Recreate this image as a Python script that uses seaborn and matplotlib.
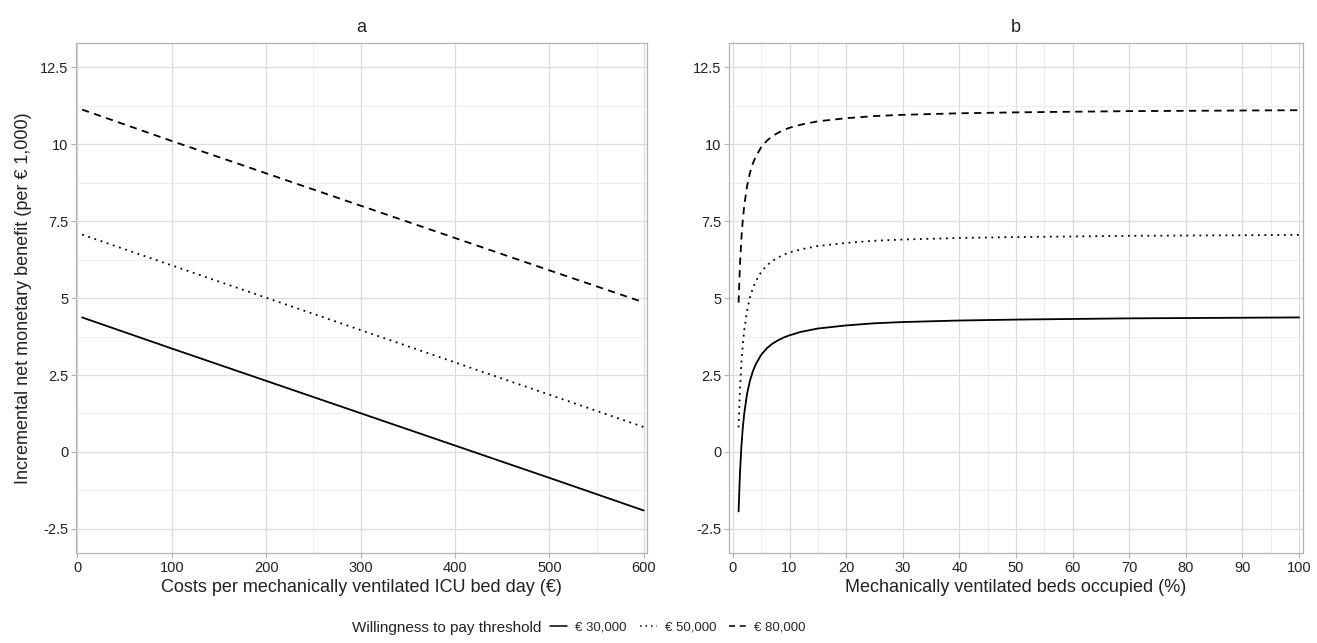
import numpy as np
import pandas as pd
import matplotlib
matplotlib.use("Agg")
import matplotlib.pyplot as plt
from matplotlib.lines import Line2D
import seaborn as sns

# --- DATA ---
wtp_labels = ["€ 30,000", "€ 50,000", "€ 80,000"]

# panel a: cost per ventilated ICU bed day (EUR)
cost_x = [5, 100, 200, 300, 400, 500, 600]
cost_30k = [4.37, 3.36, 2.31, 1.26, 0.21, -0.84, -1.90]
cost_50k = [7.06, 6.06, 5.01, 3.96, 2.91, 1.86, 0.81]
cost_80k = [11.12, 10.10, 9.05, 8.00, 6.95, 5.90, 4.86]

# panel b: mechanically ventilated beds occupied (%)
occ_x = [1, 1.25, 1.5, 1.75, 2, 2.5, 3, 3.5, 4, 5, 6, 7, 8, 9, 10, 12, 15, 20,
         25, 30, 40, 50, 60, 70, 80, 90, 100]
occ_30k = [-1.93, -0.66, 0.19, 0.80, 1.25, 1.89, 2.31, 2.61, 2.84, 3.16, 3.37,
           3.52, 3.63, 3.72, 3.79, 3.90, 4.01, 4.11, 4.18, 4.22, 4.27, 4.30,
           4.32, 4.34, 4.35, 4.36, 4.37]
occ_50k = [0.80, 2.06, 2.90, 3.50, 3.96, 4.59, 5.01, 5.31, 5.53, 5.85, 6.06,
           6.21, 6.32, 6.41, 6.48, 6.58, 6.69, 6.79, 6.86, 6.90, 6.95, 6.98,
           7.00, 7.02, 7.03, 7.04, 7.05]
occ_80k = [4.85, 6.11, 6.95, 7.55, 8.00, 8.64, 9.06, 9.36, 9.58, 9.90, 10.11,
           10.26, 10.37, 10.46, 10.53, 10.63, 10.74, 10.84, 10.91, 10.95, 11.00,
           11.03, 11.05, 11.07, 11.08, 11.09, 11.10]

y_ticks = [-2.5, 0, 2.5, 5, 7.5, 10, 12.5]
y_tick_labels = ["-2.5", "0", "2.5", "5", "7.5", "10", "12.5"]
y_minor = [-1.25, 1.25, 3.75, 6.25, 8.75, 11.25]
a_xticks = [0, 100, 200, 300, 400, 500, 600]
a_xminor = [250, 550]
b_xticks = [0, 10, 20, 30, 40, 50, 60, 70, 80, 90, 100]
b_xminor = [5, 15, 45, 55, 95]


def long_df(x, series):
    frames = []
    for lab, vals in zip(wtp_labels, series):
        frames.append(pd.DataFrame({"x": x, "y": vals, "wtp": lab}))
    return pd.concat(frames, ignore_index=True)


df_a = long_df(cost_x, [cost_30k, cost_50k, cost_80k])
df_b = long_df(occ_x, [occ_30k, occ_50k, occ_80k])

# --- STYLE ---
sns.set_theme(style="white")
plt.rcParams["font.family"] = ["Liberation Sans", "DejaVu Sans"]

dash_map = {"€ 30,000": "", "€ 50,000": (1, 2.6), "€ 80,000": (4, 3)}
border_col = "#b3b3b3"
text_col = "#222222"

fig = plt.figure(figsize=(13.17, 6.43), dpi=100)
ax_a = fig.add_axes([0.0577, 0.14, 0.4336, 0.793])
ax_b = fig.add_axes([0.5535, 0.14, 0.4359, 0.793])


def style_axis(ax, xticks, xminor, xlim):
    ax.set_xlim(*xlim)
    ax.set_ylim(-3.28, 13.28)
    ax.set_xticks(xticks)
    ax.set_xticks(xminor, minor=True)
    ax.set_yticks(y_ticks)
    ax.set_yticklabels(y_tick_labels)
    ax.set_yticks(y_minor, minor=True)
    ax.grid(which="major", color="#dcdcdc", linewidth=0.9)
    ax.grid(which="minor", color="#ebebeb", linewidth=0.6)
    ax.set_axisbelow(True)
    for s in ax.spines.values():
        s.set_color(border_col)
        s.set_linewidth(0.9)
    ax.tick_params(which="major", length=3.5, width=0.8, color=border_col,
                   labelsize=10.5, labelcolor=text_col, pad=2)
    ax.tick_params(which="minor", length=0)
    ax.tick_params(axis="x", bottom=True)
    ax.tick_params(axis="y", left=True)


for ax, df in [(ax_a, df_a), (ax_b, df_b)]:
    sns.lineplot(data=df, x="x", y="y", style="wtp", dashes=dash_map,
                 color="black", linewidth=1.3, ax=ax, legend=False,
                 estimator=None, sort=True)

style_axis(ax_a, a_xticks, a_xminor, (-1.5, 603.5))
style_axis(ax_b, b_xticks, b_xminor, (-0.7, 100.7))

ax_a.set_title("a", fontsize=13, color=text_col, pad=8)
ax_b.set_title("b", fontsize=13, color=text_col, pad=8)
ax_a.set_xlabel("Costs per mechanically ventilated ICU bed day (€)",
                fontsize=13, color=text_col, labelpad=3)
ax_b.set_xlabel("Mechanically ventilated beds occupied (%)",
                fontsize=13, color=text_col, labelpad=3)
ax_a.set_ylabel("Incremental net monetary benefit (per € 1,000)",
                fontsize=13, color=text_col, labelpad=6)
ax_b.set_ylabel("")

# legend along the bottom, title on the left
fig.text(0.411, 0.024, "Willingness to pay threshold", fontsize=11,
         color=text_col, ha="right", va="center")
handles = [Line2D([], [], color="black", linewidth=1.1, linestyle="-"),
           Line2D([], [], color="black", linewidth=1.1, linestyle=(0, (1, 2.6))),
           Line2D([], [], color="black", linewidth=1.1, linestyle=(0, (4, 3)))]
fig.legend(handles, wtp_labels, loc="center left", bbox_to_anchor=(0.4175, 0.024),
           ncol=3, frameon=False, fontsize=9.5, handlelength=1.3,
           handletextpad=0.6, columnspacing=1.0, borderpad=0, borderaxespad=0)

fig.savefig("out.png", dpi=100, facecolor="white")
